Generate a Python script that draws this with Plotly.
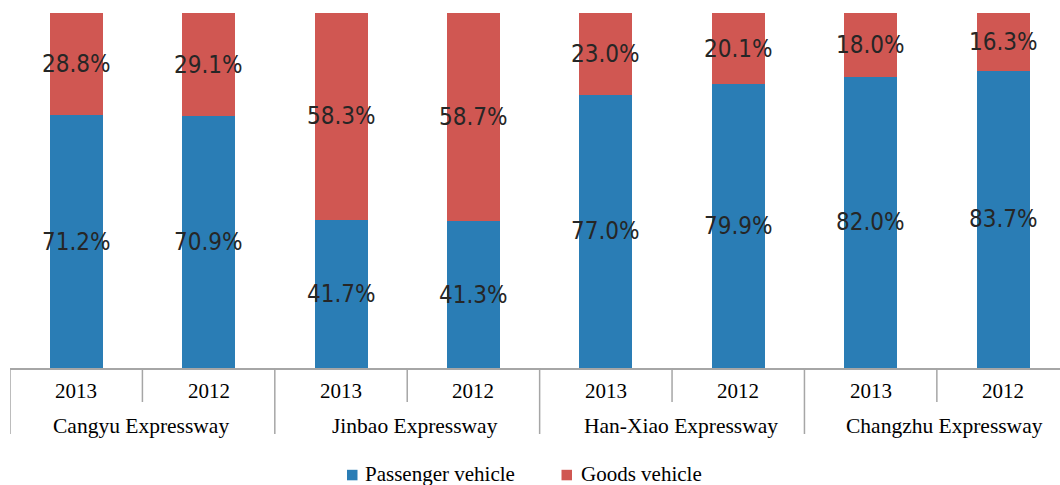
import plotly.graph_objects as go

# Traffic composition by expressway and year (share of total, %)
groups = ["Cangyu Expressway", "Jinbao Expressway", "Han-Xiao Expressway", "Changzhu Expressway"]
years = ["2013", "2012"]
passenger = [71.2, 70.9, 41.7, 41.3, 77.0, 79.9, 82.0, 83.7]
goods = [28.8, 29.1, 58.3, 58.7, 23.0, 20.1, 18.0, 16.3]
series_names = ["Passenger vehicle", "Goods vehicle"]

BLUE = "#2a7db5"
RED = "#d05752"
GRID = "#a6a6a6"
SERIF = "Liberation Serif, Times New Roman, serif"
NARROW = "Liberation Sans Narrow, DejaVu Sans Condensed, sans-serif"

W, H = 1060, 485
ML, MR, MT, MB = 10, 0, 13, 117
W_PLOT = W - ML - MR
H_PLOT = H - MT - MB

def px_x(px):
    """paper x from a pixel column"""
    return (px - ML) / W_PLOT

def px_y(py):
    """paper y from a pixel row"""
    return (H - MB - py) / H_PLOT

n = len(passenger)
xs = list(range(n))
series = [(series_names[0], passenger, BLUE), (series_names[1], goods, RED)]

fig = go.Figure()
for name, vals, color in series:
    fig.add_trace(go.Bar(
        x=xs, y=vals, name=name, width=0.4,
        marker=dict(color=color, line=dict(width=0)),
        hoverinfo="skip", showlegend=False,
    ))

annotations = []
shapes = []

# value labels centred in each stacked segment
base = [0.0] * n
for name, vals, color in series:
    for i, v in enumerate(vals):
        annotations.append(dict(x=i, y=base[i] + v / 2, xref="x", yref="y",
                                text=f"{v:.1f}%", showarrow=False,
                                font=dict(family=NARROW, size=24, color="#262626")))
        base[i] += v

# separators between years (short) and between expressways (long)
for b in range(n):
    long_sep = b % 2 == 0
    shapes.append(dict(type="line", xref="x", yref="paper", x0=b - 0.5, x1=b - 0.5,
                       y0=0, y1=px_y(434 if long_sep else 402),
                       line=dict(color=GRID, width=1.5)))

# two-level category labels
for i in xs:
    annotations.append(dict(x=i, y=px_y(391), xref="x", yref="paper", text=years[i % 2],
                            showarrow=False, yanchor="middle",
                            font=dict(family=SERIF, size=21, color="#000")))
group_shift = [-1, 8, 9, 8]
for g, label in enumerate(groups):
    annotations.append(dict(x=2 * g + 0.5, y=px_y(426), xref="x", yref="paper", text=label,
                            showarrow=False, yanchor="middle", xshift=group_shift[g],
                            font=dict(family=SERIF, size=21.5, color="#000")))

# legend: swatch + label for each series
legend_pos = [(347, 363), (561.5, 579)]
for (name, vals, color), (sx, tx) in zip(series, legend_pos):
    shapes.append(dict(type="rect", xref="paper", yref="paper",
                       x0=px_x(sx), x1=px_x(sx + 10.5), y0=px_y(480.3), y1=px_y(469.8),
                       fillcolor=color, line=dict(width=0)))
    annotations.append(dict(x=px_x(tx), y=px_y(473.5), xref="paper", yref="paper",
                            text=name, showarrow=False, xanchor="left", yanchor="middle",
                            font=dict(family=SERIF, size=21, color="#000")))

fig.update_layout(
    barmode="stack",
    width=W, height=H,
    margin=dict(l=ML, r=MR, t=MT, b=MB, autoexpand=False),
    paper_bgcolor="white", plot_bgcolor="white",
    showlegend=False,
    xaxis=dict(range=[-0.5, 7.43], showticklabels=False, showgrid=False, zeroline=False,
               showline=True, linecolor=GRID, linewidth=1.5, ticks="", fixedrange=True),
    yaxis=dict(range=[0, 100], visible=False, fixedrange=True),
    shapes=shapes, annotations=annotations,
)

fig.write_html("out.html")
